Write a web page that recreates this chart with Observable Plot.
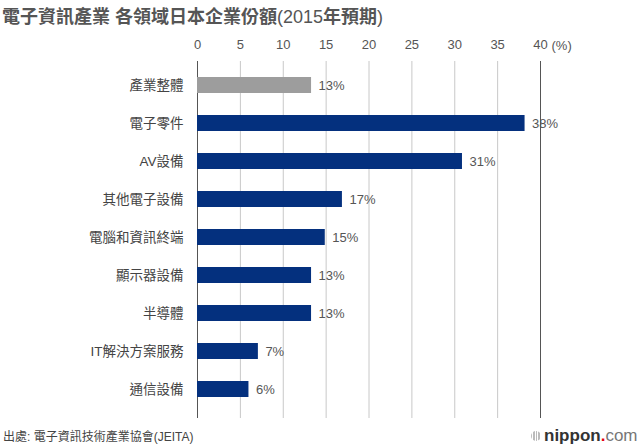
<!DOCTYPE html>
<html><head><meta charset="utf-8">
<script src="https://cdn.jsdelivr.net/npm/d3@7"></script>
<script src="https://cdn.jsdelivr.net/npm/@observablehq/plot@0.6"></script>
<style>
body{margin:0;background:#fff;}
#wrap{position:relative;width:640px;height:445px;font-family:"Liberation Sans","Noto Sans CJK TC",sans-serif;}
#wrap svg{position:absolute;left:0;top:0;}
#title{position:absolute;left:2px;top:2px;font-size:18px;font-weight:bold;color:#555;white-space:nowrap;}
#title .lat{font-weight:normal;}
#source{position:absolute;left:3px;top:427px;font-size:12px;color:#444;white-space:nowrap;}
#logo{position:absolute;left:531px;top:426px;font-size:17px;white-space:nowrap;line-height:20px;}
#logo .icon{display:inline-block;width:10px;height:10px;border-radius:50%;background:repeating-linear-gradient(90deg,#bbb 0 1.5px,#fff 1.5px 2.5px);margin-right:3px;vertical-align:0px;}
#logo .n{color:#333;font-weight:bold;}
#logo .d{color:#e60012;font-weight:bold;}
#logo .c{color:#777;}
</style>
</head><body>
<div id="wrap">
  <div id="title">電子資訊產業 各領域日本企業份額<span class="lat">(2015</span>年預期<span class="lat">)</span></div>
  <div id="source">出處: 電子資訊技術產業協會(JEITA)</div>
  <div id="logo"><span class="icon"></span><span class="n">nippon</span><span class="d">.</span><span class="c">com</span></div>
</div>
<script>
const categories = ["產業整體","電子零件","AV設備","其他電子設備","電腦和資訊終端","顯示器設備","半導體","IT解決方案服務","通信設備"];
const shares = [13.3, 38.2, 30.9, 16.9, 14.9, 13.3, 13.3, 7.1, 6.0];
const shareLabels = ["13%","38%","31%","17%","15%","13%","13%","7%","6%"];
const groups = ["整體","領域","領域","領域","領域","領域","領域","領域","領域"];
const xTicks = [0,5,10,15,20,25,30,35,40];
const unitLabel = "(%)";

const data = categories.map((c,i)=>({cat:c, value:shares[i], label:shareLabels[i], group:groups[i]}));

const chart = Plot.plot({
  width: 640,
  height: 445,
  marginTop: 61,
  marginBottom: 27,
  marginLeft: 197,
  marginRight: 100,
  style: {fontFamily: '"Liberation Sans","Noto Sans CJK TC",sans-serif', fontSize: "13px", background: "transparent"},
  x: {domain: [0, 40], axis: null},
  y: {domain: categories, paddingInner: 0.58, paddingOuter: 0.46, align: 0.43, axis: null},
  color: {domain: ["整體","領域"], range: ["#9d9d9d","#04307e"]},
  marks: [
    Plot.gridX(xTicks.slice(1, -1), {stroke: "#c8c8c8", strokeOpacity: 1}),
    Plot.ruleX([xTicks[0], xTicks[xTicks.length-1]], {stroke: "#555", strokeWidth: 1}),
    Plot.barX(data, {x: "value", y: "cat", fill: "group"}),
    Plot.text(data, {x: "value", y: "cat", text: "label", dx: 7, textAnchor: "start", fill: "#555", fontSize: 13}),
    Plot.axisX(xTicks, {anchor: "top", tickSize: 0, tickPadding: 13, fontSize: 13, color: "#555", label: null}),
    Plot.axisY({anchor: "left", tickSize: 0, tickPadding: 14, fontSize: 13.5, color: "#444", label: null}),
    Plot.text([unitLabel], {x: () => xTicks[xTicks.length-1], frameAnchor: "top", dy: -21, dx: 11, textAnchor: "start", fill: "#555", fontSize: 13})
  ]
});
document.getElementById("wrap").prepend(chart);
</script>
</body></html>
